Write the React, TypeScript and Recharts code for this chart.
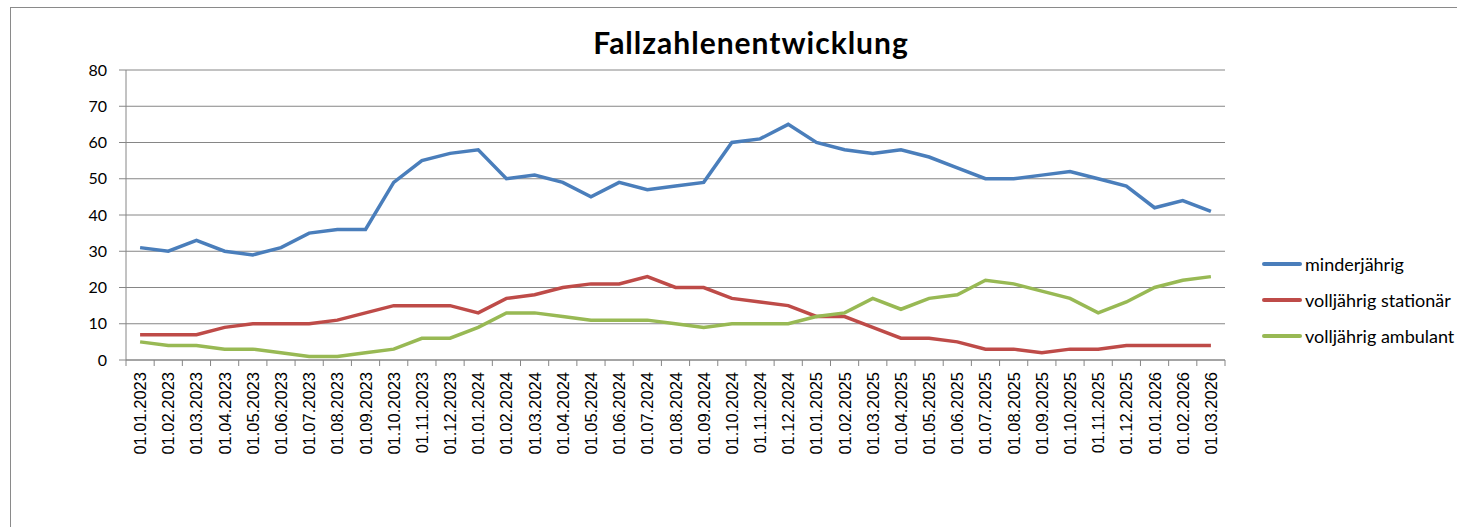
import React from 'react';
import { LineChart, Line, XAxis, YAxis, CartesianGrid } from 'recharts';

const categories = [
  '01.01.2023','01.02.2023','01.03.2023','01.04.2023','01.05.2023','01.06.2023','01.07.2023','01.08.2023','01.09.2023','01.10.2023','01.11.2023','01.12.2023',
  '01.01.2024','01.02.2024','01.03.2024','01.04.2024','01.05.2024','01.06.2024','01.07.2024','01.08.2024','01.09.2024','01.10.2024','01.11.2024','01.12.2024',
  '01.01.2025','01.02.2025','01.03.2025','01.04.2025','01.05.2025','01.06.2025','01.07.2025','01.08.2025','01.09.2025','01.10.2025','01.11.2025','01.12.2025',
  '01.01.2026','01.02.2026','01.03.2026',
];

const minderjaehrig = [31,30,33,30,29,31,35,36,36,49,55,57,58,50,51,49,45,49,47,48,49,60,61,65,60,58,57,58,56,53,50,50,51,52,50,48,42,44,41];
const volljaehrigStationaer = [7,7,7,9,10,10,10,11,13,15,15,15,13,17,18,20,21,21,23,20,20,17,16,15,12,12,9,6,6,5,3,3,2,3,3,4,4,4,4];
const volljaehrigAmbulant = [5,4,4,3,3,2,1,1,2,3,6,6,9,13,13,12,11,11,11,10,9,10,10,10,12,13,17,14,17,18,22,21,19,17,13,16,20,22,23];

const yTicks = [0,10,20,30,40,50,60,70,80];

const seriesNames = ['minderjährig', 'volljährig stationär', 'volljährig ambulant'];
const seriesColors = ['#4A7EBB', '#BE4B48', '#98B954'];

const data = categories.map((c, i) => ({
  date: c,
  a: minderjaehrig[i],
  b: volljaehrigStationaer[i],
  c: volljaehrigAmbulant[i],
}));

const W = 1457;
const H = 527;
const PLOT_LEFT = 126;
const PLOT_RIGHT = 1225;
const PLOT_TOP = 70;
const PLOT_BOTTOM = 360;
const BW = (PLOT_RIGHT - PLOT_LEFT) / categories.length;
const AXIS_COLOR = '#868686';

const XTick = (props: any) => {
  const { x, y, payload, index } = props;
  const isLast = index === categories.length - 1;
  return (
    <g>
      <line x1={x - BW / 2} x2={x - BW / 2} y1={y} y2={y + 6} stroke={AXIS_COLOR} strokeWidth={1} />
      {isLast && <line x1={x + BW / 2} x2={x + BW / 2} y1={y} y2={y + 6} stroke={AXIS_COLOR} strokeWidth={1} />}
      <text
        x={x}
        y={y + 12}
        transform={`rotate(-90, ${x}, ${y + 12})`}
        textAnchor="end"
        dominantBaseline="central"
        fontFamily="'Liberation Sans', Arial, sans-serif"
        fontSize={16.5}
        fill="#000"
      >
        {payload.value}
      </text>
    </g>
  );
};

export default function App() {
  return (
    <div style={{ position: 'absolute', left: 0, top: 0, width: W, height: H, overflow: 'hidden', background: '#fff' }}>
      <div style={{ position: 'absolute', left: 10, top: 7, width: 1600, height: 700, borderLeft: '1px solid #8a8a8a', borderTop: '1px solid #8a8a8a' }} />
      <div
        style={{
          position: 'absolute',
          left: 0,
          width: 1502,
          top: 22,
          textAlign: 'center',
          fontFamily: 'Lato, sans-serif',
          fontWeight: 700,
          fontSize: 30,
          letterSpacing: 1,
          lineHeight: '40px',
          color: '#000',
        }}
      >
        Fallzahlenentwicklung
      </div>
      <div style={{ position: 'absolute', left: 0, top: 0 }}>
        <LineChart
          width={W}
          height={H}
          data={data}
          margin={{ top: PLOT_TOP, right: W - PLOT_RIGHT, bottom: H - PLOT_BOTTOM - 100, left: 0 }}
        >
          <CartesianGrid vertical={false} stroke={AXIS_COLOR} strokeWidth={1} />
          <XAxis
            dataKey="date"
            scale="band"
            interval={0}
            height={100}
            tickLine={false}
            tickSize={0}
            tickMargin={0}
            stroke={AXIS_COLOR}
            tick={<XTick />}
          />
          <YAxis
            width={PLOT_LEFT}
            domain={[0, 80]}
            ticks={yTicks}
            interval={0}
            tickSize={7}
            tickMargin={12}
            stroke={AXIS_COLOR}
            tick={{ fill: '#000', fontFamily: 'Lato, sans-serif', fontSize: 16 }}
          />
          <Line dataKey="a" name={seriesNames[0]} stroke={seriesColors[0]} strokeWidth={3.5} dot={false} isAnimationActive={false} />
          <Line dataKey="b" name={seriesNames[1]} stroke={seriesColors[1]} strokeWidth={3.5} dot={false} isAnimationActive={false} />
          <Line dataKey="c" name={seriesNames[2]} stroke={seriesColors[2]} strokeWidth={3.5} dot={false} isAnimationActive={false} />
        </LineChart>
      </div>
      <div style={{ position: 'absolute', left: 1262, top: 246, fontFamily: 'Lato, sans-serif', fontSize: 18, color: '#000' }}>
        {seriesNames.map((n, i) => (
          <div key={n} style={{ display: 'flex', alignItems: 'center', height: 36, whiteSpace: 'nowrap' }}>
            <div style={{ width: 40, height: 3.5, background: seriesColors[i], marginRight: 3, borderRadius: 2 }} />
            <span>{n}</span>
          </div>
        ))}
      </div>
    </div>
  );
}
